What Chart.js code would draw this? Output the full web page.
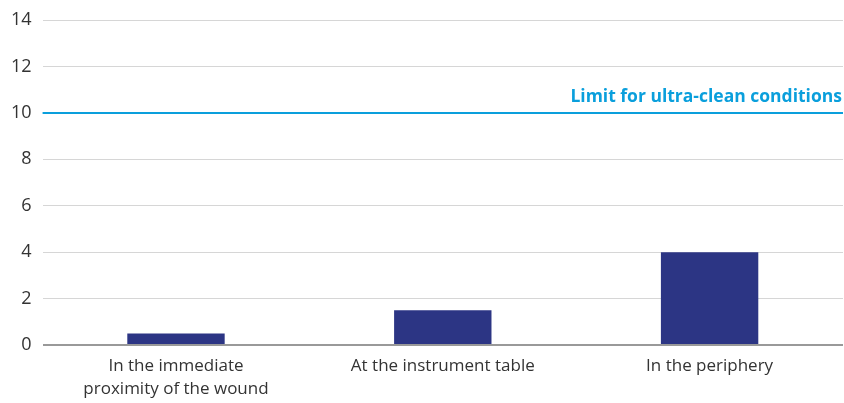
<!DOCTYPE html>
<html>
<head>
<meta charset="utf-8">
<script src="https://cdn.jsdelivr.net/npm/chart.js@4"></script>
<style>
  html, body { margin: 0; padding: 0; background: #fff; }
  #wrap { width: 844px; height: 403px; }
</style>
</head>
<body>
<div id="wrap"><canvas id="bars"></canvas></div>
<script>
// Datos del gráfico
const categories = [
    ['In the immediate', 'proximity of the wound'],
    'At the instrument table',
    'In the periphery'
];
const values = [0.5, 1.5, 4];
const limitValue = 10;
const limitLabel = 'Limit for ultra-clean conditions';

// Línea de límite dibujada con la escala y
const limitLine = {
    id: 'limitLine',
    afterDatasetsDraw(chart) {
        const { ctx, chartArea, scales } = chart;
        const y = scales.y.getPixelForValue(limitValue);
        ctx.save();
        ctx.strokeStyle = '#0a9fdc';
        ctx.lineWidth = 2;
        ctx.beginPath();
        ctx.moveTo(chartArea.left, y);
        ctx.lineTo(chartArea.right, y);
        ctx.stroke();
        ctx.fillStyle = '#0a9fdc';
        ctx.font = 'bold 17.5px "Open Sans"';
        ctx.textAlign = 'right';
        ctx.textBaseline = 'bottom';
        ctx.fillText(limitLabel, chartArea.right - 1, y - 7);
        ctx.restore();
    }
};

const config = {
    type: 'bar',
    data: {
        labels: categories,
        datasets: [{
            data: values,
            backgroundColor: '#2c3584',
            categoryPercentage: 1,
            barPercentage: 0.365
        }]
    },
    options: {
        responsive: true,
        maintainAspectRatio: false,
        animation: false,
        layout: { padding: { top: 0, right: 1, bottom: 0 } },
        plugins: {
            legend: { display: false },
            tooltip: { enabled: false }
        },
        scales: {
            x: {
                grid: { display: false },
                border: { display: false },
                ticks: {
                    color: '#333',
                    font: { family: 'Open Sans', size: 17, lineHeight: 1.35 },
                    padding: 2,
                    maxRotation: 0
                }
            },
            y: {
                min: 0,
                max: 14,
                ticks: {
                    stepSize: 2,
                    color: '#333',
                    font: { family: 'Open Sans', size: 18, lineHeight: 1 },
                    padding: 11
                },
                border: { display: false },
                grid: {
                    drawTicks: false,
                    color: (c) => c.tick && c.tick.value === 0 ? '#999' : '#d6d6d6',
                    lineWidth: (c) => c.tick && c.tick.value === 0 ? 2 : 1
                }
            }
        }
    },
    plugins: [limitLine]
};

new Chart(document.getElementById('bars'), config);
</script>
</body>
</html>
